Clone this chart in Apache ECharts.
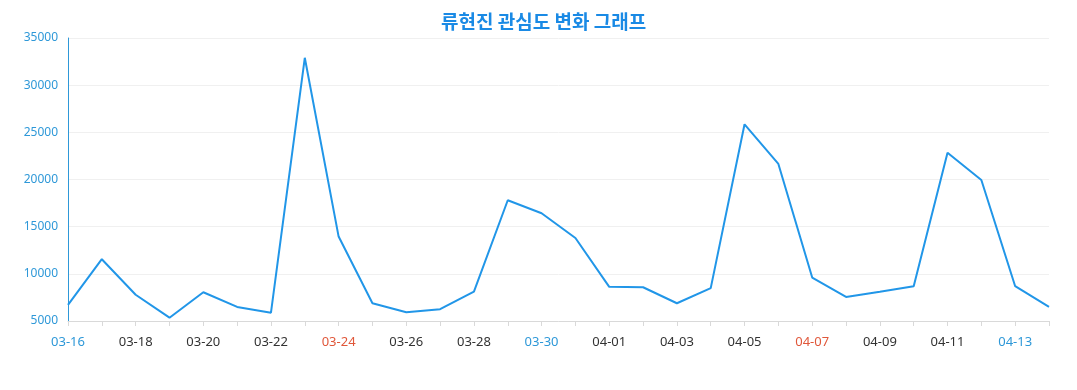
<!DOCTYPE html>
<html><head><meta charset="utf-8">
<script src="https://cdn.jsdelivr.net/npm/echarts@6/dist/echarts.min.js"></script>
<style>html,body{margin:0;padding:0;background:#fff}#c{width:1077px;height:390px}</style>
</head><body><div id="c"></div>
<script>
const titleText = '류현진 관심도 변화 그래프';
const categories = ['03-16','03-17','03-18','03-19','03-20','03-21','03-22','03-23','03-24','03-25','03-26','03-27','03-28','03-29','03-30','03-31','04-01','04-02','04-03','04-04','04-05','04-06','04-07','04-08','04-09','04-10','04-11','04-12','04-13','04-14'];
const values = [6700,11550,7780,5350,8050,6490,5880,32900,13950,6880,5920,6250,8120,17800,16420,13800,8620,8580,6880,8480,25850,21650,9610,7550,8100,8690,22840,19950,8690,6490];
const blueLabels = ['03-16','03-30','04-13'];
const redLabels = ['03-24','04-07'];
const yTicks = {min:5000, max:35000, interval:5000};

const chart = echarts.init(document.getElementById('c'));
chart.setOption({
  animation:false,
  title:{text:titleText,left:436,top:7,textStyle:{color:'#1a8ae5',fontSize:19,fontWeight:'bold',fontFamily:'Noto Sans CJK KR'}},
  grid:{left:68,right:28,top:38,bottom:69},
  xAxis:{type:'category',data:categories,boundaryGap:false,
    axisLine:{lineStyle:{color:'#d9d9d9'}},
    axisTick:{show:true,interval:0,lineStyle:{color:'#d9d9d9'}},
    axisLabel:{interval:1,fontSize:13,margin:15,fontFamily:'Noto Sans',
      color:function(v){return blueLabels.includes(v)?'#2e98d8':(redLabels.includes(v)?'#e0573a':'#333');}}},
  yAxis:{type:'value',min:yTicks.min,max:yTicks.max,interval:yTicks.interval,
    axisLine:{show:true,lineStyle:{color:'#2e98d8'}},
    axisTick:{show:false},
    axisLabel:{color:'#2e98d8',fontSize:12,fontFamily:'Noto Sans',margin:10,formatter:function(v){return String(v);}},
    splitLine:{lineStyle:{color:'#f0f0f0'}}},
  series:[{type:'line',data:values,symbol:'none',lineStyle:{color:'#2196e8',width:2}}]
});
</script></body></html>
